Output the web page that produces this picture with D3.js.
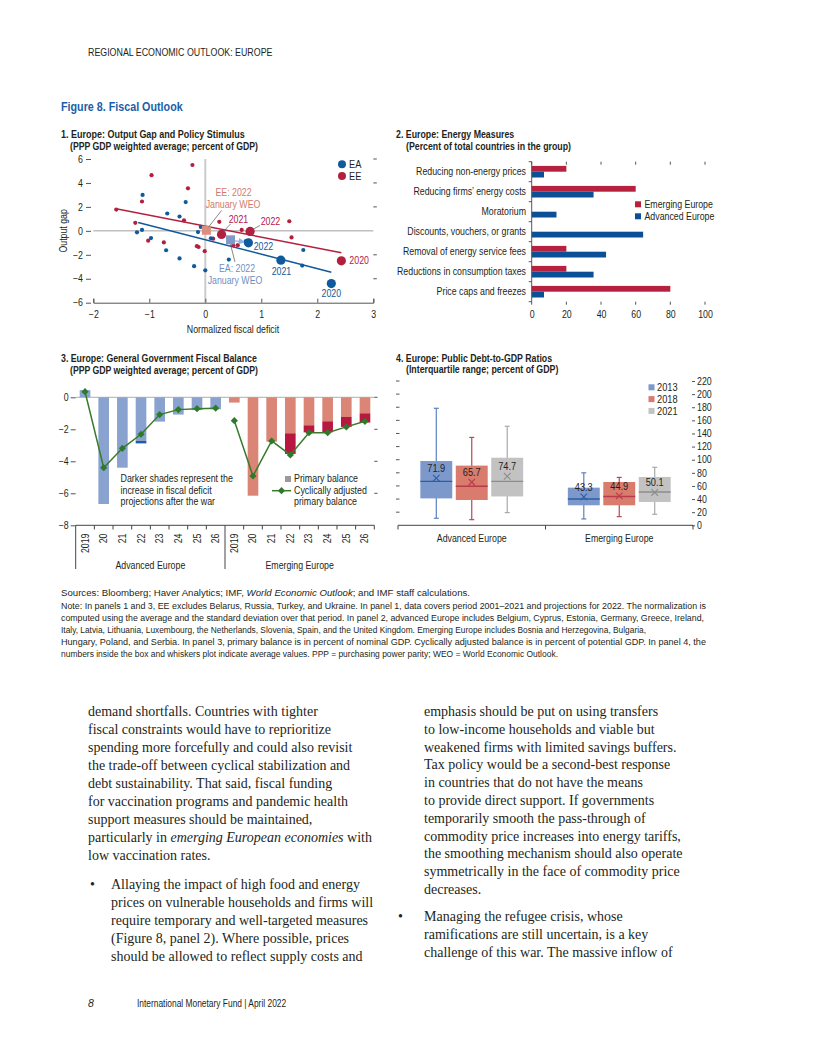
<!DOCTYPE html>
<html><head><meta charset="utf-8">
<script src="https://cdn.jsdelivr.net/npm/d3@7"></script>
<style>body{margin:0;background:#fff;}</style>
</head><body>
<svg id="page" width="816" height="1056" xmlns="http://www.w3.org/2000/svg"></svg>
<script>
// ---------------- DATA ----------------
// Panel 1: scatter (normalized fiscal deficit, output gap)
const eaSmall = [[-1.12,3.0],[-0.35,2.4],[-0.68,1.45],[-0.46,1.2],[-1.22,-0.12],[-1.13,0.08],[-0.97,-0.6],[-0.7,-1.62],[-0.46,-2.3],[-0.2,-2.95],[0,-3.3],[-0.13,-0.1],[-0.08,0.33],[0.1,-0.62],[0.42,-2.4],[1.75,-1.6],[1.73,-2.9],[0.72,-0.88]];
const eeSmall = [[-1.59,1.78],[-1.13,2.45],[-0.96,4.65],[-0.23,5.5],[-0.31,3.55],[-1.25,0.67],[-1.02,-0.82],[-0.74,-0.97],[-0.38,0.88],[-0.15,-1.28],[-0.12,-1.35],[-0.01,-1.7],[0.25,0.75],[0.14,-0.65],[0.5,-1.2],[0.58,-1.2],[0.65,0.08],[1.5,0.8],[1.54,-0.55]];
const highlightYears = ["2020","2021","2022"];
const eaHighX = [2.25,1.35,0.77];
const eaHighY = [-4.4,-2.45,-1.0];
const eeHighX = [2.43,0.29,0.8];
const eeHighY = [-2.5,-0.3,-0.05];
const eaJanWEO = [0.45,-0.75];
const eeJanWEO = [0.02,0.05];
const eaFit = [[-1.2,0.7],[2.25,-3.45]];
const eeFit = [[-1.57,1.82],[2.43,-1.83]];
const p1XTicks = [-2,-1,0,1,2,3];
const p1YTicks = [-6,-4,-2,0,2,4,6];

// Panel 2: energy measures
const measures = ["Reducing non-energy prices","Reducing firms’ energy costs","Moratorium","Discounts, vouchers, or grants","Removal of energy service fees","Reductions in consumption taxes","Price caps and freezes"];
const emergingShare = [20,60,0,0,20,20,80];
const advancedShare = [7.1,35.7,14.3,64.3,42.9,35.7,7.1];
const p2Ticks = [0,20,40,60,80,100];

// Panel 3: fiscal balance
const years3 = ["2019","20","21","22","23","24","25","26"];
const advPrimaryPre = [0.45,-6.67,-4.4,-2.73,-1.52,-1.08,-0.8,-0.75];
const advPrimaryPost = [0.45,-6.67,-4.4,-2.88,-1.52,-1.08,-0.8,-0.75];
const advCAPB = [0.35,-4.4,-3.19,-2.31,-1.08,-0.77,-0.71,-0.68];
const emgPrimaryPre = [-0.33,-6.15,-2.77,-2.25,-1.75,-1.5,-1.23,-1.0];
const emgPrimaryPost = [-0.33,-6.15,-2.77,-3.54,-2.19,-2.19,-1.85,-1.58];
const emgCAPB = [-1.46,-4.92,-2.73,-3.6,-2.21,-2.21,-1.85,-1.5];
const p3YTicks = [-8,-6,-4,-2,0];

// Panel 4: debt box plots (order: AE 2013, 2018, 2021, EE 2013, 2018, 2021)
const boxGroups = ["Advanced Europe","Emerging Europe"];
const boxYears = ["2013","2018","2021"];
const boxMin = [10.7,8.6,19.3,9.7,13.2,16.8];
const boxQ1 = [41,38.6,44,30.5,30.5,35.6];
const boxMedian = [67,59.5,67,40,44,50.8];
const boxQ3 = [98,91,103,57.4,66,73.7];
const boxMax = [178.4,134,151,80,73,88.4];
const boxMean = [71.9,65.7,74.7,43.3,44.9,50.1];
const p4Ticks = [0,20,40,60,80,100,120,140,160,180,200,220];

// ---------------- HELPERS ----------------
const NARROW = "'Liberation Sans Narrow','Arial Narrow','Liberation Sans',Arial,sans-serif";
const SERIF = "'Liberation Serif','Times New Roman',serif";
const INK = "#231f20";
const SX = 0.88; // horizontal condensing for the chart's condensed sans face
const svg = d3.select("#page");
svg.append("rect").attr("width",816).attr("height",1056).attr("fill","#fff");

function txt(g, x, y, s, o = {}) {
  const sx = o.sx === undefined ? (o.family ? 1 : SX) : o.sx;
  const t = g.append("text").attr("y", y).text(s)
    .attr("font-family", o.family || NARROW).attr("font-size", o.size || 10)
    .attr("fill", o.fill || INK);
  if (sx !== 1) t.attr("x", x / sx).attr("transform", `scale(${sx},1)`); else t.attr("x", x);
  if (o.anchor) t.attr("text-anchor", o.anchor);
  if (o.weight) t.attr("font-weight", o.weight);
  if (o.style) t.attr("font-style", o.style);
  if (o.len) t.attr("textLength", o.len / sx).attr("lengthAdjust", "spacingAndGlyphs");
  return t;
}
function rtxt(g, tx, ty, s, o = {}) { // rotated -90 text
  const sx = o.sx || SX;
  return g.append("text").attr("x", 0).attr("y", 0).text(s)
    .attr("font-family", NARROW).attr("font-size", o.size || 10).attr("fill", INK)
    .attr("text-anchor", o.anchor || "middle")
    .attr("transform", `translate(${tx},${ty}) rotate(-90) scale(${sx},1)`);
}
function line(g, x1, y1, x2, y2, c, w) {
  return g.append("line").attr("x1",x1).attr("y1",y1).attr("x2",x2).attr("y2",y2)
    .attr("stroke", c || INK).attr("stroke-width", w || 1);
}
function styleAxis(g, size) {
  g.attr("font-family", NARROW).attr("font-size", size || 10);
  g.selectAll("text").attr("fill", INK).each(function () {
    const s = d3.select(this);
    const x = +s.attr("x") || 0;
    s.attr("x", x / SX).attr("transform", `scale(${SX},1)`);
  });
  g.selectAll("line").attr("stroke", "#555");
}

// ---------------- HEADER ----------------
txt(svg, 88, 56, "REGIONAL ECONOMIC OUTLOOK: EUROPE", {size: 11.5, sx: 0.77});
txt(svg, 61, 111, "Figure 8. Fiscal Outlook", {size: 12.5, weight: "bold", fill: "#1c5ea8", sx: 0.86});

// ---------------- PANEL 1 ----------------
const BLUE = "#0f5a9c", RED = "#b3203f";
const p1 = svg.append("g");
txt(p1, 61, 138, "1. Europe: Output Gap and Policy Stimulus", {weight: "bold", sx: 0.9});
txt(p1, 70, 150, "(PPP GDP weighted average; percent of GDP)", {weight: "bold", sx: 0.87});
const x1 = d3.scaleLinear().domain([-2,3]).range([93.3,373.3]);
const y1 = d3.scaleLinear().domain([-6,6]).range([302.7,159]);
line(p1, x1(0), y1(6), x1(0), y1(-6), "#cccccc", 2);
line(p1, x1(-2), y1(0), x1(3), y1(0), "#a0a0a0", 1);
const ax1b = p1.append("g").attr("transform", `translate(0,${y1(-6)})`)
  .call(d3.axisBottom(x1).tickValues(p1XTicks).tickFormat(d3.format("d")).tickSize(-4).tickPadding(8));
styleAxis(ax1b); ax1b.select(".domain").attr("stroke", "#555");
const ax1l = p1.append("g").attr("transform", "translate(91,0)")
  .call(d3.axisLeft(y1).tickValues(p1YTicks).tickFormat(d3.format("d")).tickSize(5).tickPadding(3));
styleAxis(ax1l); ax1l.select(".domain").remove();
p1YTicks.filter(v => v !== 0 && v !== -6).forEach(v => line(p1, x1(3), y1(v), x1(3) + 3.5, y1(v), "#555", 1));
rtxt(p1, 67, y1(0), "Output gap");
txt(p1, 233, 333.5, "Normalized fiscal deficit", {anchor: "middle"});
// fit lines
[[eeFit, RED], [eaFit, BLUE]].forEach(([f, c]) => {
  p1.append("path").attr("d", d3.line().x(d => x1(d[0])).y(d => y1(d[1]))(f))
    .attr("stroke", c).attr("stroke-width", 1.5).attr("fill", "none");
});
// small dots
p1.selectAll(".ee").data(eeSmall).join("circle").attr("cx", d => x1(d[0])).attr("cy", d => y1(d[1])).attr("r", 2.1).attr("fill", RED);
p1.selectAll(".ea").data(eaSmall).join("circle").attr("cx", d => x1(d[0])).attr("cy", d => y1(d[1])).attr("r", 2.1).attr("fill", BLUE);
// Jan WEO squares + leader/arrow
const eaSq = [x1(eaJanWEO[0]), y1(eaJanWEO[1])], eeSq = [x1(eeJanWEO[0]), y1(eeJanWEO[1])];
svg.append("defs").append("marker").attr("id","arr").attr("viewBox","0 0 10 10").attr("refX",9).attr("refY",5)
  .attr("markerWidth",5).attr("markerHeight",5).attr("orient","auto")
  .append("path").attr("d","M0,0L10,5L0,10z").attr("fill","#8fb2e3");
line(p1, eaSq[0] + 4, eaSq[1] + 1, x1(eaHighX[2]) - 4, y1(eaHighY[2]) - 1, "#8fb2e3", 1.3).attr("marker-end", "url(#arr)");
p1.append("rect").attr("x", eeSq[0] - 4.5).attr("y", eeSq[1] - 4.5).attr("width", 9).attr("height", 9).attr("fill", "#dc8f80");
p1.append("rect").attr("x", eaSq[0] - 4.5).attr("y", eaSq[1] - 4.5).attr("width", 9).attr("height", 9).attr("fill", "#8199c9");
// highlight dots
highlightYears.forEach((yr, i) => {
  p1.append("circle").attr("cx", x1(eeHighX[i])).attr("cy", y1(eeHighY[i])).attr("r", 4.6).attr("fill", RED);
  p1.append("circle").attr("cx", x1(eaHighX[i])).attr("cy", y1(eaHighY[i])).attr("r", 4.6).attr("fill", BLUE);
});
// annotations
const A = 10;
txt(p1, 233.5, 196, "EE: 2022", {anchor: "middle", fill: "#d27a6a", size: A});
txt(p1, 233, 208, "January WEO", {anchor: "middle", fill: "#d27a6a", size: A});
line(p1, 221.5, 210.5, eeSq[0] + 2, eeSq[1] - 3, "#555", 0.7);
txt(p1, 238.5, 222.8, "2021", {anchor: "middle", fill: RED, size: A});
line(p1, 230.5, 224, x1(eeHighX[1]) + 2, y1(eeHighY[1]) - 3, "#555", 0.7);
txt(p1, 270.5, 225.5, "2022", {anchor: "middle", fill: RED, size: A});
line(p1, 260, 225.5, x1(eeHighX[2]) + 2.5, y1(eeHighY[2]) - 2, "#555", 0.7);
txt(p1, x1(eeHighX[0]) + 8, y1(eeHighY[0]) + 3.7, "2020", {fill: RED, size: A});
txt(p1, 263.5, 249.8, "2022", {anchor: "middle", fill: BLUE, size: A});
txt(p1, 281.5, 275.5, "2021", {anchor: "middle", fill: BLUE, size: A});
txt(p1, x1(eaHighX[0]), 297, "2020", {anchor: "middle", fill: BLUE, size: A});
txt(p1, 237, 272, "EA: 2022", {anchor: "middle", fill: "#6f8fc3", size: A});
txt(p1, 235, 284.5, "January WEO", {anchor: "middle", fill: "#6f8fc3", size: A});
line(p1, eaSq[0], eaSq[1] + 4.5, 235, 262, "#555", 0.7);
// legend
p1.append("circle").attr("cx", 342).attr("cy", 164.3).attr("r", 4).attr("fill", BLUE);
p1.append("circle").attr("cx", 342).attr("cy", 176).attr("r", 4).attr("fill", RED);
txt(p1, 349, 168, "EA", {size: 10.5});
txt(p1, 349, 179.7, "EE", {size: 10.5});

// ---------------- PANEL 2 ----------------
const P2RED = "#b5213f", P2BLUE = "#0b4f97";
const p2 = svg.append("g");
txt(p2, 396, 138, "2. Europe: Energy Measures", {weight: "bold"});
txt(p2, 406, 150, "(Percent of total countries in the group)", {weight: "bold"});
const x2 = d3.scaleLinear().domain([0,100]).range([531.7,705]);
const y2 = d3.scaleBand().domain(measures).range([161.7,301.7]);
p2Ticks.forEach(v => {
  line(p2, x2(v), 161.7, x2(v), 164.7, "#555", 1);
  line(p2, x2(v), 301.7, x2(v), 304.7, "#555", 1);
});
const ax2 = p2.append("g").attr("transform", "translate(0,301.7)")
  .call(d3.axisBottom(x2).tickValues(p2Ticks).tickSize(0).tickPadding(9));
styleAxis(ax2); ax2.select(".domain").remove();
measures.forEach((m, i) => {
  const c = y2(m) + y2.bandwidth() / 2;
  p2.append("rect").attr("x", x2(0)).attr("y", c - 5.8).attr("width", x2(emergingShare[i]) - x2(0)).attr("height", 5.8).attr("fill", P2RED);
  p2.append("rect").attr("x", x2(0)).attr("y", c).attr("width", x2(advancedShare[i]) - x2(0)).attr("height", 5.8).attr("fill", P2BLUE);
  txt(p2, 526, c + 3.6, m, {anchor: "end"});
  line(p2, x2(0) - 3, y2(m), x2(0), y2(m), "#555", 1);
});
line(p2, x2(0) - 3, 301.7, x2(0), 301.7, "#555", 1);
line(p2, x2(0), 161.7, x2(0), 301.7, "#555", 1);
p2.append("rect").attr("x", 635).attr("y", 201.3).attr("width", 6).attr("height", 6).attr("fill", P2RED);
p2.append("rect").attr("x", 635).attr("y", 213.3).attr("width", 6).attr("height", 6).attr("fill", P2BLUE);
txt(p2, 644.5, 208, "Emerging Europe");
txt(p2, 644.5, 220.3, "Advanced Europe");

// ---------------- PANEL 3 ----------------
const p3 = svg.append("g");
txt(p3, 61, 362, "3. Europe: General Government Fiscal Balance", {weight: "bold"});
txt(p3, 70, 374, "(PPP GDP weighted average; percent of GDP)", {weight: "bold", sx: 0.87});
const x3 = d3.scaleBand().domain(d3.range(16)).range([75.7,374.3]);
const y3 = d3.scaleLinear().domain([-8,0]).range([525.3,397.3]);
line(p3, x3.range()[0], y3(0), x3.range()[1], y3(0), "#9a9a9a", 0.8);
const ax3 = p3.append("g").attr("transform", "translate(75.7,0)")
  .call(d3.axisLeft(y3).tickValues(p3YTicks).tickSize(5).tickPadding(2));
styleAxis(ax3); ax3.select(".domain").remove();
p3YTicks.filter(v => v > -8).forEach(v => line(p3, 374.3, y3(v), 377.5, y3(v), "#555", 1));
const bw3 = x3.bandwidth() * 0.57;
const groupsData = [
  {pre: advPrimaryPre, post: advPrimaryPost, capb: advCAPB, light: "#8aa2d0", dark: "#1c5da4", off: 0},
  {pre: emgPrimaryPre, post: emgPrimaryPost, capb: emgCAPB, light: "#db8577", dark: "#b8173f", off: 8}
];
groupsData.forEach(G => {
  years3.forEach((yr, j) => {
    const xc = x3(G.off + j) + x3.bandwidth() / 2;
    const a = G.pre[j];
    p3.append("rect").attr("x", xc - bw3 / 2).attr("width", bw3)
      .attr("y", y3(Math.max(a, 0))).attr("height", Math.abs(y3(a) - y3(0))).attr("fill", G.light);
    if (G.post[j] < G.pre[j]) {
      p3.append("rect").attr("x", xc - bw3 / 2).attr("width", bw3)
        .attr("y", y3(G.pre[j])).attr("height", y3(G.post[j]) - y3(G.pre[j])).attr("fill", G.dark);
    }
  });
});
const diamond = (x, y, r) => `M${x},${y - r}L${x + r},${y}L${x},${y + r}L${x - r},${y}Z`;
groupsData.forEach(G => {
  const pts = years3.map((yr, j) => [x3(G.off + j) + x3.bandwidth() / 2, y3(G.capb[j])]);
  p3.append("path").attr("d", d3.line()(pts)).attr("stroke", "#3a7a2c").attr("stroke-width", 1.5).attr("fill", "none");
  pts.forEach(p => p3.append("path").attr("d", diamond(p[0], p[1], 3.6)).attr("fill", "#2f7a2a"));
});
// x axis
line(p3, 75.7, 525.3, 374.3, 525.3, "#444", 1);
d3.range(17).forEach(i => {
  const xv = i < 16 ? x3(i) : x3.range()[1];
  if (i === 0 || i === 8) line(p3, xv, 525.3, xv, 569, "#444", 1);
  else line(p3, xv, 525.3, xv, 529.5, "#444", 1);
});
d3.range(16).forEach(i => {
  const xc = x3(i) + x3.bandwidth() / 2;
  rtxt(p3, xc + 3.5, 533.5, years3[i % 8], {anchor: "end"});
});
txt(p3, (x3(0) + x3(8)) / 2, 569.5, "Advanced Europe", {anchor: "middle"});
txt(p3, (x3(8) + x3.range()[1]) / 2, 569.5, "Emerging Europe", {anchor: "middle"});
// annotation + legend
txt(p3, 120.5, 482.3, "Darker shades represent the", {size: 10.2, sx: 0.87});
txt(p3, 120.5, 494, "increase in fiscal deficit", {size: 10.2, sx: 0.87});
txt(p3, 120.5, 505.5, "projections after the war", {size: 10.2, sx: 0.87});
p3.append("rect").attr("x", 285).attr("y", 476).attr("width", 6).attr("height", 6).attr("fill", "#9a9a9a");
txt(p3, 294, 482.3, "Primary balance", {size: 10.2, sx: 0.87});
line(p3, 272, 490.7, 291, 490.7, "#3a7a2c", 1.5);
p3.append("path").attr("d", diamond(281.5, 490.7, 3.6)).attr("fill", "#2f7a2a");
txt(p3, 294, 494.2, "Cyclically adjusted", {size: 10.2, sx: 0.87});
txt(p3, 294, 505.5, "primary balance", {size: 10.2, sx: 0.87});

// ---------------- PANEL 4 ----------------
const p4 = svg.append("g");
txt(p4, 396, 362, "4. Europe: Public Debt-to-GDP Ratios", {weight: "bold"});
txt(p4, 406, 373.5, "(Interquartile range; percent of GDP)", {weight: "bold"});
const y4 = d3.scaleLinear().domain([0,220]).range([525.3,381]);
const xg = d3.scaleBand().domain(boxGroups).range([398,693]);
const xs = d3.scaleBand().domain(boxYears).range([0, xg.bandwidth()]).paddingInner(0.1).paddingOuter(0.63);
const boxFill = ["#7d99cc", "#d97b6d", "#c2c2c2"];
const boxDark = ["#2c5ea2", "#b73c4b", "#8d8d8d"];
const boxWhisk = ["#5b82c0", "#b5495a", "#a9a9a9"];
p4Ticks.filter(v => v > 0).forEach(v => line(p4, 396, y4(v), 399.5, y4(v), "#555", 1));
const ax4 = p4.append("g").attr("transform", "translate(692,0)")
  .call(d3.axisRight(y4).tickValues(p4Ticks).tickSize(3).tickPadding(2));
styleAxis(ax4); ax4.select(".domain").remove();
line(p4, 398, 525.3, 693, 525.3, "#444", 1);
[398, xg("Emerging Europe"), 693].forEach(xv => line(p4, xv, 525.3, xv, 529.5, "#444", 1));
boxGroups.forEach((g, gi) => {
  txt(p4, xg(g) + xg.bandwidth() / 2, 541.8, g, {anchor: "middle"});
  boxYears.forEach((yr, yi) => {
    const k = gi * 3 + yi;
    const x0 = xg(g) + xs(yr), w = xs.bandwidth(), xc = x0 + w / 2;
    line(p4, xc, y4(boxMax[k]), xc, y4(boxMin[k]), boxWhisk[yi], 1.2);
    line(p4, xc - 2.5, y4(boxMax[k]), xc + 2.5, y4(boxMax[k]), boxWhisk[yi], 1.2);
    line(p4, xc - 2.5, y4(boxMin[k]), xc + 2.5, y4(boxMin[k]), boxWhisk[yi], 1.2);
    p4.append("rect").attr("x", x0).attr("width", w).attr("y", y4(boxQ3[k])).attr("height", y4(boxQ1[k]) - y4(boxQ3[k]))
      .attr("fill", boxFill[yi]);
    line(p4, x0, y4(boxMedian[k]), x0 + w, y4(boxMedian[k]), boxDark[yi], 1.4);
    const my = y4(boxMean[k]);
    line(p4, xc - 3.3, my - 3.3, xc + 3.3, my + 3.3, boxDark[yi], 1.1);
    line(p4, xc - 3.3, my + 3.3, xc + 3.3, my - 3.3, boxDark[yi], 1.1);
    txt(p4, xc, my - 6, boxMean[k].toFixed(1), {anchor: "middle", size: 10.5});
  });
});
boxYears.forEach((yr, i) => {
  p4.append("rect").attr("x", 648.5).attr("y", 384.3 + i * 11.8).attr("width", 6).attr("height", 6).attr("fill", boxFill[i]);
  txt(p4, 657, 391 + i * 11.8, yr, {size: 10.5});
});

// ---------------- NOTES ----------------
const notes = svg.append("g");
const nS = 9.5;
const n1 = txt(notes, 61, 596.5, "Sources: Bloomberg; Haver Analytics; IMF, ", {size: nS, len: 409});
n1.append("tspan").attr("font-style", "italic").text("World Economic Outlook");
n1.append("tspan").text("; and IMF staff calculations.");
const noteLines = [
  ["Note: In panels 1 and 3, EE excludes Belarus, Russia, Turkey, and Ukraine. In panel 1, data covers period 2001–2021 and projections for 2022. The normalization is", 645],
  ["computed using the average and the standard deviation over that period. In panel 2, advanced Europe includes Belgium, Cyprus, Estonia, Germany, Greece, Ireland,", 643],
  ["Italy, Latvia, Lithuania, Luxembourg, the Netherlands, Slovenia, Spain, and the United Kingdom. Emerging Europe includes Bosnia and Herzegovina, Bulgaria,", 585],
  ["Hungary, Poland, and Serbia. In panel 3, primary balance is in percent of nominal GDP. Cyclically adjusted balance is in percent of potential GDP. In panel 4, the", 645],
  ["numbers inside the box and whiskers plot indicate average values. PPP = purchasing power parity; WEO = World Economic Outlook.", 497]
];
noteLines.forEach((l, i) => txt(notes, 61, 608.7 + i * 12.2, l[0], {size: nS, len: l[1]}));

// ---------------- BODY TEXT ----------------
const body = svg.append("g");
const BS = 14, LH = 18.05;
const leftLines = ["demand shortfalls. Countries with tighter","fiscal constraints would have to reprioritize","spending more forcefully and could also revisit","the trade-off between cyclical stabilization and","debt sustainability. That said, fiscal funding","for vaccination programs and pandemic health","support measures should be maintained,","@","low vaccination rates."];
leftLines.forEach((l, i) => {
  if (l === "@") {
    const t = txt(body, 88, 716 + i * LH, "particularly in ", {family: SERIF, size: BS});
    t.append("tspan").attr("font-style", "italic").text("emerging European economies");
    t.append("tspan").text(" with");
  } else txt(body, 88, 716 + i * LH, l, {family: SERIF, size: BS});
});
const leftBullet = ["Allaying the impact of high food and energy","prices on vulnerable households and firms will","require temporary and well-targeted measures","(Figure 8, panel 2). Where possible, prices","should be allowed to reflect supply costs and"];
txt(body, 90, 889, "•", {family: SERIF, size: BS});
leftBullet.forEach((l, i) => txt(body, 111, 889 + i * LH, l, {family: SERIF, size: BS}));
const rightLines = ["emphasis should be put on using transfers","to low-income households and viable but","weakened firms with limited savings buffers.","Tax policy would be a second-best response","in countries that do not have the means","to provide direct support. If governments","temporarily smooth the pass-through of","commodity price increases into energy tariffs,","the smoothing mechanism should also operate","symmetrically in the face of commodity price","decreases."];
rightLines.forEach((l, i) => txt(body, 424, 716 + i * 17.8, l, {family: SERIF, size: BS}));
const rightBullet = ["Managing the refugee crisis, whose","ramifications are still uncertain, is a key","challenge of this war. The massive inflow of"];
txt(body, 398, 921, "•", {family: SERIF, size: BS});
rightBullet.forEach((l, i) => txt(body, 424, 921 + i * LH, l, {family: SERIF, size: BS}));

// ---------------- FOOTER ----------------
txt(svg, 88, 1007, "8", {size: 10.5, style: "italic", sx: 1});
txt(svg, 137, 1007, "International Monetary Fund | April 2022", {size: 10.5, sx: 0.8});
</script>
</body></html>
